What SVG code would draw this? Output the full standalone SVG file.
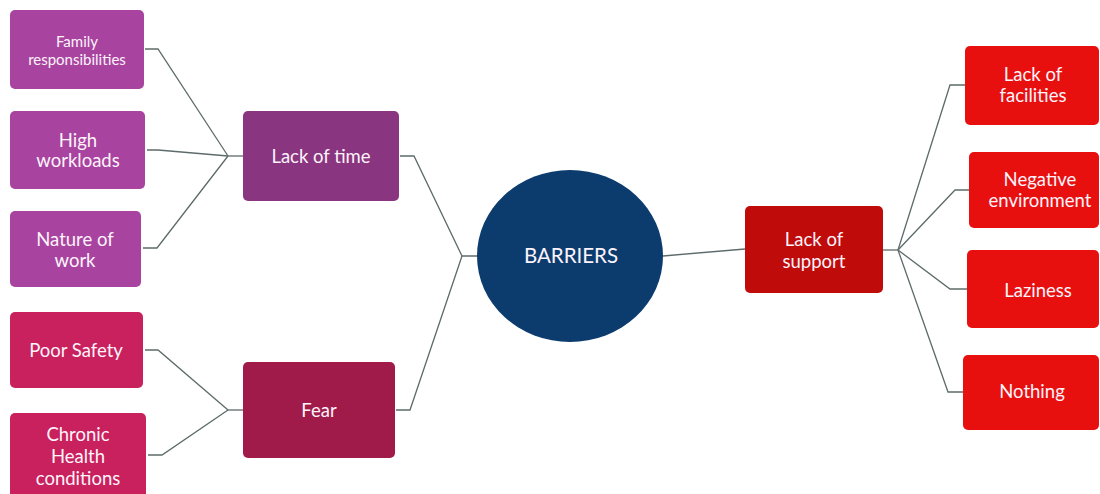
<svg xmlns="http://www.w3.org/2000/svg" width="1100" height="494" viewBox="0 0 1100 494">
  <style>
    .lbl { font-family: Lato, "Open Sans", "Liberation Sans", sans-serif; fill: #fdf3fb; text-anchor: middle; font-size: 18.5px; }
    .sm { font-size: 15px; }
    .big { font-size: 20.5px; }
    .edge { fill: none; stroke: #5d6b6a; stroke-width: 1.3; }
    .pl { fill: #a8439f; }
    .pd { fill: #8a357f; }
    .cl { fill: #c9215d; }
    .cd { fill: #a11b4a; }
    .rl { fill: #e8100f; }
    .rd { fill: #c00b0b; }
  </style>
  <rect width="1100" height="494" fill="#ffffff"/>

  <!-- connectors -->
  <g id="connectors">
    <polyline class="edge" points="145,49 158,49 228,156"/>
    <polyline class="edge" points="147,150 158,150 228,156"/>
    <polyline class="edge" points="143,248 157,248 228,156"/>
    <polyline class="edge" points="228,156 243,156"/>
    <polyline class="edge" points="145,350 158,350 228,410"/>
    <polyline class="edge" points="148,455 162,455 228,410"/>
    <polyline class="edge" points="228,410 243,410"/>
    <polyline class="edge" points="400,156 414,156 462,256 478,256"/>
    <polyline class="edge" points="396,410 410,410 462,256"/>
    <polyline class="edge" points="663,256 745,249"/>
    <polyline class="edge" points="883,250 898,250"/>
    <polyline class="edge" points="898,250 950,85 965,85"/>
    <polyline class="edge" points="898,250 955,190 969,190"/>
    <polyline class="edge" points="898,250 950,289 967,289"/>
    <polyline class="edge" points="898,250 948,392 963,392"/>
  </g>

  <!-- left branch: lack of time -->
  <g id="family">
    <rect class="pl" x="10" y="10" width="134" height="79" rx="5"/>
    <text class="lbl sm" x="77" y="47">Family</text>
    <text class="lbl sm" x="77" y="65">responsibilities</text>
  </g>
  <g id="workloads">
    <rect class="pl" x="10" y="111" width="135" height="78" rx="5"/>
    <text class="lbl" x="78" y="147">High</text>
    <text class="lbl" x="78" y="167">workloads</text>
  </g>
  <g id="nature">
    <rect class="pl" x="10" y="211" width="131" height="76" rx="5"/>
    <text class="lbl" x="75" y="246">Nature of</text>
    <text class="lbl" x="75" y="267">work</text>
  </g>
  <g id="lack-time">
    <rect class="pd" x="243" y="111" width="156" height="90" rx="5"/>
    <text class="lbl" x="321" y="163">Lack of time</text>
  </g>

  <!-- left branch: fear -->
  <g id="safety">
    <rect class="cl" x="10" y="312" width="133" height="76" rx="5"/>
    <text class="lbl" x="76" y="357">Poor Safety</text>
  </g>
  <g id="chronic">
    <rect class="cl" x="10" y="413" width="136" height="86" rx="5"/>
    <text class="lbl" x="78" y="441">Chronic</text>
    <text class="lbl" x="78" y="463">Health</text>
    <text class="lbl" x="78" y="485">conditions</text>
  </g>
  <g id="fear">
    <rect class="cd" x="243" y="362" width="152" height="96" rx="5"/>
    <text class="lbl" x="319" y="417">Fear</text>
  </g>

  <!-- centre -->
  <g id="barriers">
    <ellipse cx="570" cy="256" rx="93" ry="86" fill="#0c3c6e"/>
    <text class="lbl big" x="571" y="263" fill="#eaf2fb">BARRIERS</text>
  </g>

  <!-- right branch: lack of support -->
  <g id="lack-support">
    <rect class="rd" x="745" y="206" width="138" height="87" rx="5"/>
    <text class="lbl" x="814" y="246">Lack of</text>
    <text class="lbl" x="814" y="268">support</text>
  </g>
  <g id="facilities">
    <rect class="rl" x="965" y="46" width="134" height="79" rx="5"/>
    <text class="lbl" x="1033" y="81">Lack of</text>
    <text class="lbl" x="1033" y="102">facilities</text>
  </g>
  <g id="negative">
    <rect class="rl" x="969" y="152" width="130" height="76" rx="5"/>
    <text class="lbl" x="1040" y="186">Negative</text>
    <text class="lbl" x="1040" y="207">environment</text>
  </g>
  <g id="laziness">
    <rect class="rl" x="967" y="250" width="132" height="78" rx="5"/>
    <text class="lbl" x="1038" y="297">Laziness</text>
  </g>
  <g id="nothing">
    <rect class="rl" x="963" y="355" width="136" height="75" rx="5"/>
    <text class="lbl" x="1032" y="398">Nothing</text>
  </g>
</svg>
